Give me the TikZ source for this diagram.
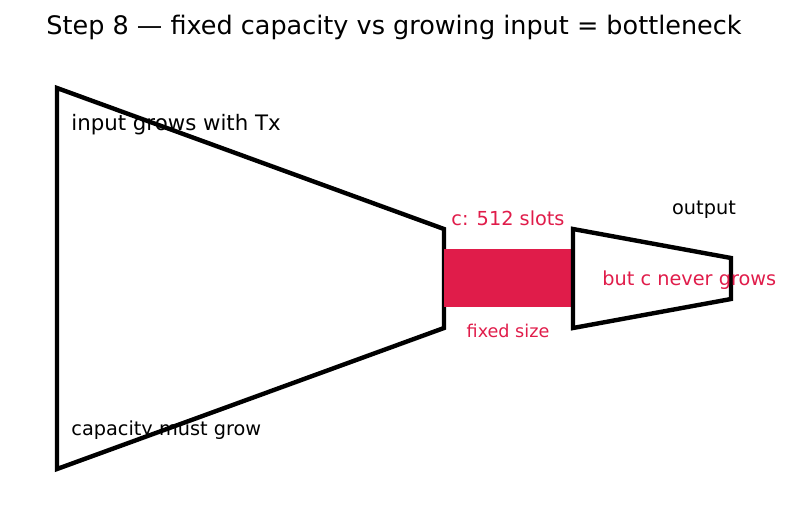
\documentclass[tikz,border=0pt]{standalone}
\usepackage{fontspec}
\setmainfont{DejaVu Sans}
\usepackage{tikz}
\usetikzlibrary{positioning}
\definecolor{slotred}{RGB}{224,28,74}

\begin{document}
\begin{tikzpicture}[x=1pt, y=-1pt, thick]
    % Styles
    \tikzstyle{funnel} = [draw=black, line width=4.4pt, line join=miter]
    \tikzstyle{label} = [inner sep=0pt, font=\fontsize{19.3}{22}\selectfont]
    \tikzstyle{redlabel} = [label, text=slotred]

    \useasboundingbox (0,0) rectangle (791,512);

    % Title
    \node [inner sep=0pt, font=\fontsize{25.5}{28}\selectfont] (title) at (394,27) {Step 8 --- fixed capacity vs growing input = bottleneck};

    % Shapes
    \draw [funnel] (57,88) -- (444,229) -- (444,328) -- (57,469) -- cycle;
    \fill [slotred] (444,249) rectangle (571,307);
    \draw [funnel] (573,229) -- (731,258) -- (731,299) -- (573,328) -- cycle;

    % Nodes
    \node [label, anchor=west, font=\fontsize{21.3}{24}\selectfont] (input) at (71,125) {input grows with Tx};
    \node [label, anchor=west] (capacity) at (71,430) {capacity must grow};
    \node [redlabel] (slots) at (508,218) {c: 512 slots};
    \node [redlabel, font=\fontsize{17.6}{20}\selectfont] (fixed) at (508,331) {fixed size};
    \node [label] (output) at (704,210) {output};
    \node [redlabel, anchor=west] (never) at (602,280) {but c never grows};

\end{tikzpicture}
\end{document}
